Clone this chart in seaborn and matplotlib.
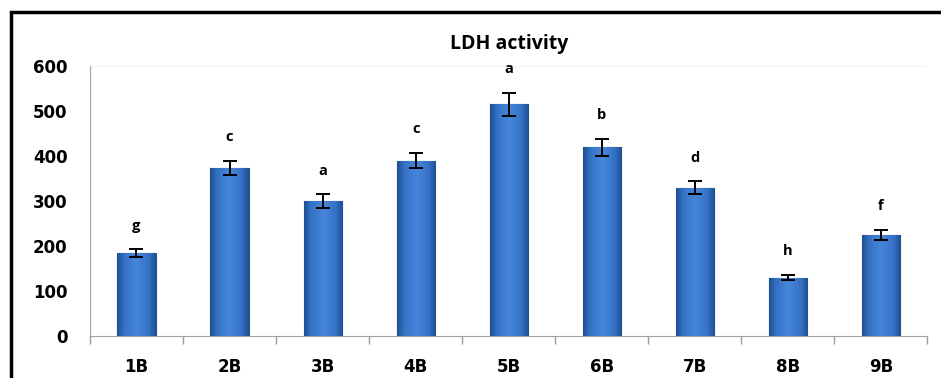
import matplotlib.pyplot as plt
import matplotlib.patches as mpatches
from matplotlib.colors import LinearSegmentedColormap
import seaborn as sns
import pandas as pd
import numpy as np

# Dados do gráfico
grupos = ['1B', '2B', '3B', '4B', '5B', '6B', '7B', '8B', '9B']
atividade = [184, 374, 300, 390, 515, 420, 330, 130, 225]
erro = [9, 16, 15, 17, 25, 19, 14, 6, 11]
letras = ['g', 'c', 'a', 'c', 'a', 'b', 'd', 'h', 'f']

df = pd.DataFrame({'Grupo': grupos, 'LDH': atividade})

sns.set_style('white')
plt.rcParams['font.family'] = ['DejaVu Sans']
plt.rcParams['text.color'] = 'black'
plt.rcParams['xtick.color'] = 'black'
plt.rcParams['ytick.color'] = 'black'

fig = plt.figure(figsize=(9.41, 3.78), dpi=100)
ax = fig.add_axes([0.0956, 0.111, 0.89, 0.714])

sns.barplot(data=df, x='Grupo', y='LDH', color='#3b7bcf', width=0.41,
            edgecolor='#22528f', linewidth=0.8, saturation=1, ax=ax)

# gradiente horizontal nas barras (efeito Excel)
cmap = LinearSegmentedColormap.from_list(
    'barra', [(0, '#1f4f92'), (0.18, '#3572c6'), (0.5, '#4686da'),
              (0.82, '#3572c6'), (1, '#1f4f92')])
grad = np.linspace(0, 1, 64).reshape(1, -1)
for p in ax.patches:
    x0, y0 = p.get_x(), p.get_y()
    w, h = p.get_width(), p.get_height()
    im = ax.imshow(grad, cmap=cmap, aspect='auto', extent=[x0, x0 + w, y0, y0 + h],
                   zorder=p.get_zorder() + 0.1)
    im.set_clip_path(p)

ax.errorbar(x=np.arange(len(grupos)), y=atividade, yerr=erro, fmt='none',
            ecolor='black', elinewidth=1.4, capsize=5, capthick=1.4, zorder=5)

# letras de significância acima das barras
for i, (v, e, l) in enumerate(zip(atividade, erro, letras)):
    ax.annotate(l, (i, v + e), xytext=(0, 12), textcoords='offset points',
                ha='center', va='bottom', fontsize=10.5, fontweight='bold',
                color='black', family=['Open Sans', 'DejaVu Sans'])

ax.set_ylim(0, 600)
ax.set_xlim(-0.5, len(grupos) - 0.5)
ax.set_yticks(range(0, 601, 100))
ax.set_xlabel('')
ax.set_ylabel('')
ax.set_title('LDH activity', fontsize=14, fontweight='bold', color='black',
             family=['Open Sans', 'DejaVu Sans'], pad=12)

# ticks entre as categorias, estilo Excel
ax.set_xticks(np.arange(len(grupos)))
ax.set_xticks(np.arange(len(grupos) + 1) - 0.5, minor=True)
ax.tick_params(axis='x', which='major', length=0, pad=16, labelsize=12)
ax.tick_params(axis='x', which='minor', length=6, color='#9a9a9a', width=1,
               direction='out', bottom=True)
ax.tick_params(axis='y', length=0, pad=16, labelsize=12)
for t in ax.get_xticklabels() + ax.get_yticklabels():
    t.set_fontweight('bold')

for s in ['top', 'right']:
    ax.spines[s].set_visible(False)
ax.spines['left'].set_color('#a0a0a0')
ax.spines['bottom'].set_color('#a0a0a0')
ax.axhline(600, color='#f2f2f2', lw=0.8)

# moldura preta da figura
W, H = 941, 378
fig.add_artist(mpatches.Rectangle((11 / W, -0.1), 1.2, (H - 12) / H + 0.1,
                                  transform=fig.transFigure, fill=False,
                                  edgecolor='black', linewidth=2.5))

fig.savefig('out.png', dpi=100)
